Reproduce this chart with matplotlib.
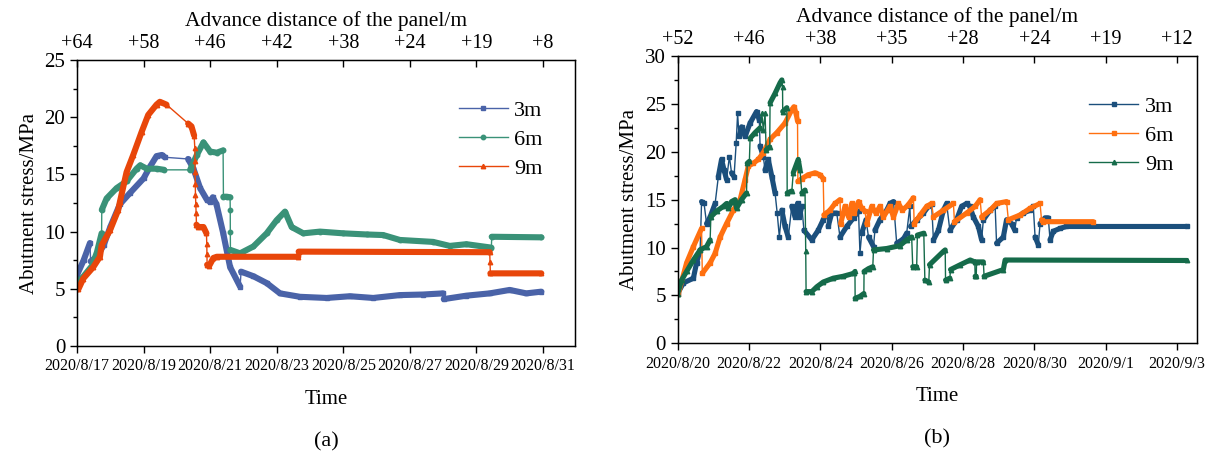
import numpy as np
import matplotlib
matplotlib.use("Agg")
import matplotlib.pyplot as plt
from matplotlib.ticker import MultipleLocator

plt.rcParams['font.family'] = ['Liberation Serif', 'DejaVu Serif']

# ---- (a) days since 2020/8/17 and abutment stress (MPa) ----
a_days_3m = [0.0, 0.2, 0.39, 0.41, 0.6, 0.8, 1.0, 1.29, 1.6, 2.0, 2.2, 2.39, 2.55, 2.64,
             3.34, 3.5, 3.7, 3.9, 4.0, 4.08, 4.19, 4.39, 4.6, 4.9, 4.93, 5.3, 5.7, 6.1,
             6.7, 7.5, 8.2, 8.9, 9.7, 10.4, 11.0, 11.02, 11.7, 12.4, 13.0, 13.5, 13.95]
a_stress_3m = [6.2, 7.5, 9.0, 7.4, 7.8, 8.8, 10.4, 12.4, 13.4, 14.65, 15.7, 16.6, 16.7, 16.5,
               16.35, 15.5, 13.8, 12.8, 12.6, 13.0, 12.4, 9.9, 6.9, 5.2, 6.5, 6.1, 5.5, 4.6,
               4.3, 4.2, 4.35, 4.2, 4.45, 4.5, 4.6, 4.1, 4.4, 4.6, 4.9, 4.6, 4.75]

a_days_6m = [0.0, 0.2, 0.45, 0.6, 0.74, 0.745, 0.89, 1.19, 1.49, 1.79, 1.9, 2.1, 2.4, 2.62,
             3.4, 3.6, 3.8, 4.0, 4.2, 4.39, 4.4, 4.5, 4.6, 4.605, 4.607, 4.61, 4.9, 5.3,
             5.7, 6.0, 6.25, 6.45, 6.8, 7.3, 8.0, 8.7, 9.2, 9.7, 10.7, 11.2, 11.7, 12.45,
             12.46, 13.95]
a_stress_6m = [5.5, 6.1, 7.0, 8.2, 9.85, 11.9, 12.9, 13.8, 14.4, 15.5, 15.8, 15.5, 15.5, 15.4,
               15.4, 16.7, 17.8, 17.0, 16.9, 17.1, 13.05, 13.05, 13.0, 11.9, 10.0, 8.4, 8.1, 8.7,
               9.85, 11.0, 11.75, 10.4, 9.85, 10.0, 9.85, 9.75, 9.7, 9.27, 9.1, 8.75, 8.9, 8.6,
               9.55, 9.5]

a_days_9m = [0.04, 0.19, 0.49, 0.69, 0.74, 0.99, 1.24, 1.29, 1.49, 1.69, 1.94, 2.14, 2.39,
             2.49, 2.69, 3.34, 3.44, 3.52, 3.54, 3.545, 3.55, 3.555, 3.56, 3.57, 3.58, 3.59,
             3.65, 3.8, 3.89, 3.9, 3.905, 3.91, 3.97, 4.1, 4.2, 6.65, 6.66, 12.4, 12.41,
             12.42, 13.95]
a_stress_9m = [4.95, 5.9, 6.9, 7.8, 8.8, 10.1, 11.9, 12.6, 15.2, 16.7, 18.7, 20.2, 21.1,
               21.35, 21.1, 19.45, 19.2, 18.4, 17.3, 16.2, 15.2, 14.2, 13.2, 12.4, 11.6, 10.6,
               10.4, 10.4, 9.85, 8.9, 8.0, 7.1, 7.0, 7.7, 7.8, 7.8, 8.25, 8.2, 7.3,
               6.35, 6.35]

a_gap = (2.7, 3.3)  # no readings recorded in this window
a_dates = ['2020/8/17', '2020/8/19', '2020/8/21', '2020/8/23', '2020/8/25',
           '2020/8/27', '2020/8/29', '2020/8/31']
a_advance = ['+64', '+58', '+46', '+42', '+38', '+24', '+19', '+8']

# ---- (b) days since 2020/8/20 ----
b_days_3m = [0, 0.16, 0.44, 0.53, 0.63, 0.67, 0.74, 0.81, 0.91, 1.05, 1.14, 1.23, 1.3, 1.37,
             1.45, 1.51, 1.58, 1.64, 1.68, 1.72, 1.79, 1.89, 2.03, 2.21, 2.29, 2.31, 2.4,
             2.45, 2.54, 2.64, 2.73, 2.79, 2.85, 2.92, 3.01, 3.1, 3.2, 3.29, 3.36, 3.41,
             3.48, 3.54, 3.76, 3.94, 4.08, 4.18, 4.22, 4.32, 4.46, 4.55, 4.74, 4.93, 5.07,
             5.11, 5.16, 5.28, 5.35, 5.49, 5.53, 5.67, 5.86, 5.95, 6.05, 6.14, 6.33, 6.42,
             6.51, 6.53, 6.7, 6.89, 7.03, 7.12, 7.17, 7.31, 7.45, 7.54, 7.63, 7.82, 7.96,
             8.1, 8.19, 8.29, 8.43, 8.52, 8.57, 8.76, 8.9, 8.94, 9.13, 9.22, 9.36, 9.45,
             9.5, 9.69, 9.88, 9.97, 10.02, 10.11, 10.16, 10.3, 10.39, 10.44, 10.53, 10.72,
             10.9, 14.27]
b_stress_3m = [5.2, 6.3, 6.8, 8.4, 9.75, 14.8, 14.6, 12.5, 13.2, 14.6, 17.4, 19.2, 18.1, 17.1,
               19.5, 17.8, 17.4, 20.9, 24.0, 21.6, 22.6, 21.6, 23.0, 24.2, 23.3, 20.6, 19.5,
               18.1, 19.2, 17.4, 15.7, 13.6, 11.1, 13.9, 12.2, 11.1, 14.3, 13.2, 14.6, 13.2,
               14.3, 11.8, 10.8, 11.8, 12.9, 13.6, 12.2, 13.6, 13.6, 11.1, 12.2, 13.1, 13.8,
               9.4, 11.5, 12.9, 11.1, 10.1, 11.8, 12.9, 13.9, 14.6, 14.8, 10.45, 10.9, 11.5,
               14.3, 12.2, 12.9, 13.6, 14.3, 14.5, 10.8, 11.8, 13.9, 14.6, 11.8, 12.9, 14.3,
               14.6, 14.3, 13.2, 12.2, 10.8, 12.9, 13.9, 14.3, 10.45, 11.1, 12.9, 12.5, 11.8,
               13.1, 13.6, 13.9, 14.3, 11.1, 10.3, 12.5, 13.1, 13.1, 10.8, 11.7, 12.0,
               12.2, 12.2]

b_days_6m = [0.02, 0.25, 0.44, 0.67, 0.69, 0.91, 1.05, 1.19, 1.37, 1.56, 1.75, 1.89, 1.98,
             2.12, 2.26, 2.4, 2.59, 2.78, 3.01, 3.2, 3.26, 3.32, 3.36, 3.37, 3.48, 3.66,
             3.85, 3.99, 4.08, 4.1, 4.27, 4.41, 4.55, 4.57, 4.69, 4.79, 4.88, 4.94, 5.07,
             5.16, 5.25, 5.3, 5.44, 5.56, 5.67, 5.77, 5.95, 6.05, 6.19, 6.3, 6.45, 6.61,
             6.63, 6.8, 6.98, 7.12, 7.17, 7.45, 7.73, 7.76, 8.1, 8.34, 8.48, 8.52, 8.76,
             8.94, 9.22, 9.27, 9.6, 9.88, 10.16, 10.2, 10.25, 11.65]
b_stress_6m = [5.2, 8.4, 10.1, 12.0, 7.3, 8.4, 9.4, 11.1, 12.5, 13.9, 15.0, 17.1, 18.5,
               18.8, 19.2, 19.9, 21.3, 22.0, 23.0, 24.4, 24.7, 24.0, 23.2, 16.9, 17.2, 17.6,
               17.8, 17.6, 17.2, 13.4, 13.9, 14.6, 15.0, 12.5, 14.3, 13.2, 14.6, 13.6, 14.8,
               14.1, 13.8, 12.5, 14.3, 13.6, 14.3, 13.2, 14.3, 13.2, 14.6, 13.9, 14.4, 15.2,
               12.5, 13.4, 14.3, 14.6, 13.2, 13.9, 14.6, 12.7, 13.6, 14.3, 15.0, 13.2, 13.9,
               14.6, 14.8, 12.9, 13.4, 14.1, 14.6, 12.9, 12.7, 12.7]

b_days_9m = [0, 0.11, 0.25, 0.44, 0.63, 0.81, 0.91, 0.93, 1.09, 1.28, 1.37, 1.42, 1.51, 1.61,
             1.65, 1.79, 1.93, 1.95, 2.01, 2.03, 2.17, 2.31, 2.36, 2.4, 2.45, 2.48, 2.58,
             2.59, 2.73, 2.87, 2.92, 2.94, 2.945, 3.06, 3.07, 3.2, 3.24, 3.38, 3.43, 3.48,
             3.57, 3.59, 3.6, 3.76, 3.9, 4.08, 4.36, 4.64, 4.93, 4.97, 4.975, 5.11, 5.22,
             5.225, 5.35, 5.47, 5.49, 5.86, 6.23, 6.42, 6.56, 6.59, 6.7, 6.72, 6.9, 6.93,
             7.04, 7.06, 7.45, 7.5, 7.51, 7.63, 7.65, 7.92, 8.2, 8.33, 8.34, 8.37, 8.38,
             8.57, 8.59, 9.13, 9.18, 14.27]
b_stress_9m = [5.2, 6.6, 7.5, 8.7, 9.75, 10.1, 10.8, 13.2, 13.8, 14.3, 14.6, 14.1, 14.8, 15.0,
               14.1, 15.0, 15.7, 18.8, 19.0, 21.4, 22.0, 22.5, 24.0, 22.3, 24.0, 20.2, 20.5,
               25.1, 26.1, 27.2, 27.5, 26.8, 24.2, 24.6, 15.7, 15.9, 17.8, 19.2, 18.1, 15.7,
               16.0, 9.6, 5.4, 5.4, 5.9, 6.4, 6.8, 7.0, 7.3, 7.5, 4.7, 4.9, 5.2,
               7.5, 7.8, 8.0, 9.75, 9.9, 10.2, 10.8, 11.1, 8.0, 8.0, 11.3, 11.5, 6.6,
               6.4, 8.2, 9.6, 9.75, 6.6, 6.8, 7.7, 8.2, 8.7, 8.5, 7.0, 7.0, 8.5,
               8.5, 7.0, 7.7, 8.7, 8.65]

b_dates = ['2020/8/20', '2020/8/22', '2020/8/24', '2020/8/26', '2020/8/28',
           '2020/8/30', '2020/9/1', '2020/9/3']
b_advance = ['+52', '+46', '+38', '+35', '+28', '+24', '+19', '+12']


def dense_path(x, y, gap=None, max_slope=25.0):
    """Break the thick trace wherever the logger jumped or stopped recording."""
    xs, ys = [x[0]], [y[0]]
    for i in range(1, len(x)):
        dx = x[i] - x[i - 1]
        dy = abs(y[i] - y[i - 1])
        jump = dx <= 0 or dy / dx > max_slope
        if gap is not None and x[i - 1] < gap[1] and x[i] > gap[0]:
            jump = True
        if jump:
            xs.append(np.nan)
            ys.append(np.nan)
        xs.append(x[i])
        ys.append(y[i])
    return xs, ys


def draw_series(ax, x, y, color, marker, label, width, gap=None):
    xs, ys = dense_path(x, y, gap)
    ax.plot(xs, ys, color=color, lw=width, solid_capstyle='round',
            solid_joinstyle='round')
    ax.plot(x, y, color=color, lw=1.0, marker=marker, ms=3.2, label=label)


def style_panel(ax, xmax, ymax, dates, advance, tag, legend_at):
    ax.set_xlim(0, xmax)
    ax.set_ylim(0, ymax)
    ticks = np.arange(0, 15, 2)
    ax.set_xticks(ticks)
    ax.set_xticklabels(dates, fontsize=11.5)
    ax.yaxis.set_major_locator(MultipleLocator(5))
    ax.yaxis.set_minor_locator(MultipleLocator(2.5))
    ax.tick_params(axis='y', which='major', labelsize=15, length=5, width=1)
    ax.tick_params(axis='y', which='minor', length=3, width=1)
    ax.tick_params(axis='x', length=5, width=1, pad=4)
    ax.set_xlabel('Time', fontsize=15, labelpad=11)
    ax.set_ylabel('Abutment stress/MPa', fontsize=15, labelpad=4)
    for s in ax.spines.values():
        s.set_linewidth(1.0)

    top = ax.twiny()
    top.set_xlim(ax.get_xlim())
    top.set_xticks(ticks)
    top.set_xticklabels(advance, fontsize=14.5)
    top.tick_params(axis='x', direction='in', length=5, width=1, pad=5)
    top.set_xlabel('Advance distance of the panel/m', fontsize=15.5, labelpad=6)

    ax.text(0.5, -0.30, tag, transform=ax.transAxes, ha='center', va='top',
            fontsize=16)
    ax.legend(frameon=False, fontsize=16, handlelength=2.2, handletextpad=0.3,
              labelspacing=0.38, loc='upper right', bbox_to_anchor=legend_at,
              borderaxespad=0, borderpad=0)


fig = plt.figure(figsize=(12.16, 4.59), dpi=100)
ax_a = fig.add_axes([0.0633, 0.2462, 0.4095, 0.623])
ax_b = fig.add_axes([0.5573, 0.252, 0.4268, 0.626])

draw_series(ax_a, a_days_3m, a_stress_3m, '#4a63a8', 's', '3m', 4.4, a_gap)
draw_series(ax_a, a_days_6m, a_stress_6m, '#3a9278', 'o', '6m', 4.4, a_gap)
draw_series(ax_a, a_days_9m, a_stress_9m, '#e8460a', '^', '9m', 4.4, a_gap)
style_panel(ax_a, 14.96, 25, a_dates, a_advance, '(a)', (0.935, 0.86))

draw_series(ax_b, b_days_3m, b_stress_3m, '#1b4f7c', 's', '3m', 3.7)
draw_series(ax_b, b_days_6m, b_stress_6m, '#ff7010', 's', '6m', 3.7)
draw_series(ax_b, b_days_9m, b_stress_9m, '#156b4a', '^', '9m', 3.7)
style_panel(ax_b, 14.55, 30, b_dates, b_advance, '(b)', (0.955, 0.86))

fig.savefig('out.png', dpi=100)
